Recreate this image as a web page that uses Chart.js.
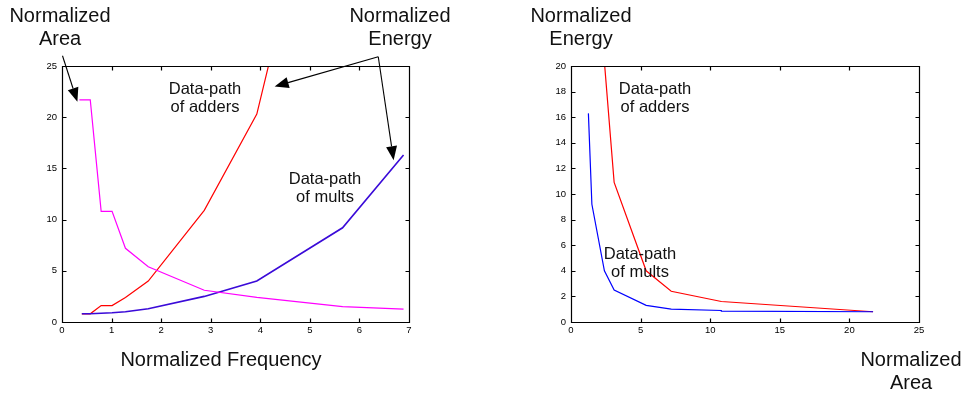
<!DOCTYPE html>
<html>
<head>
  <title>Normalized Energy, Area and Frequency</title>
  <script src="https://cdn.jsdelivr.net/npm/chart.js"></script>
  <style>
    body { margin: 0; background: #fff; }
    #page { position: relative; width: 962px; height: 393px; overflow: hidden;
            font-family: "Liberation Sans", Arial, sans-serif; color: #111; }
    canvas { position: absolute; top: 0; }
    .big, .note { position: absolute; text-align: center; white-space: nowrap; transform: translateX(-50%); }
    .big { font-size: 20px; line-height: 23px; }
    .note { font-size: 16.5px; line-height: 18.4px; }
  </style>
</head>
<body>
<div id="page">
  <canvas id="freqChart" width="481" height="393" style="left:0"></canvas>
  <canvas id="areaChart" width="481" height="393" style="left:481px"></canvas>

  <div class="big" style="left:60px; top:4px">Normalized<br>Area</div>
  <div class="big" style="left:400px; top:4px">Normalized<br>Energy</div>
  <div class="big" style="left:221px; top:348px">Normalized Frequency</div>
  <div class="note" style="left:205px; top:79px">Data-path<br>of adders</div>
  <div class="note" style="left:325px; top:169px">Data-path<br>of mults</div>

  <div class="big" style="left:581px; top:4px">Normalized<br>Energy</div>
  <div class="big" style="left:911px; top:348px">Normalized<br>Area</div>
  <div class="note" style="left:655px; top:79px">Data-path<br>of adders</div>
  <div class="note" style="left:640px; top:244px">Data-path<br>of mults</div>
</div>

<script>
  // design points, ordered by frequency
  const freq = [0.40, 0.57, 0.79, 1.01, 1.28, 1.74, 2.87, 3.93, 5.66, 6.89];
  const freqArea = [0.35, 0.57, 0.79, 1.01, 1.28, 1.74, 2.87, 3.93, 5.66, 6.89];
  const area = [21.7, 21.7, 10.8, 10.8, 7.2, 5.4, 3.1, 2.4, 1.5, 1.25];
  const energyAdders = [0.8, 0.8, 1.6, 1.6, 2.4, 4.0, 10.9, 20.3, 55, null];
  const energyMults = [0.8, 0.8, 0.85, 0.9, 1.0, 1.3, 2.5, 4.0, 9.2, 16.3];

  const freqTicks = [0, 1, 2, 3, 4, 5, 6, 7];
  const energyTicksL = [0, 5, 10, 15, 20, 25];
  const areaTicks = [0, 5, 10, 15, 20, 25];
  const energyTicksR = [0, 2, 4, 6, 8, 10, 12, 14, 16, 18, 20];

  const pts = (xs, ys) => xs.map((v, i) => ({ x: v, y: ys[i] }));

  // inward tick marks on all four sides plus the box frame
  const boxTicks = {
    id: 'boxTicks',
    afterDraw(chart) {
      const { ctx, chartArea: a, scales: { x, y } } = chart;
      const L = Math.round(a.left) + 0.5, R = Math.round(a.right) + 0.5;
      const T = Math.round(a.top) + 0.5, B = Math.round(a.bottom) + 0.5;
      ctx.save();
      ctx.strokeStyle = '#000';
      ctx.lineWidth = 1.2;
      ctx.beginPath();
      x.ticks.forEach(t => {
        const px = Math.round(x.getPixelForValue(t.value)) + 0.5;
        ctx.moveTo(px, B); ctx.lineTo(px, B - 4);
        ctx.moveTo(px, T); ctx.lineTo(px, T + 4);
      });
      y.ticks.forEach(t => {
        const py = Math.round(y.getPixelForValue(t.value)) + 0.5;
        ctx.moveTo(L, py); ctx.lineTo(L + 4, py);
        ctx.moveTo(R, py); ctx.lineTo(R - 4, py);
      });
      ctx.rect(L, T, R - L, B - T);
      ctx.stroke();
      ctx.restore();
    }
  };

  // callout arrows, in frequency/energy units of the left plot
  const callouts = [
    { from: [0.01, 26.0], to: [0.31, 21.5] },
    { from: [6.38, 25.9], to: [4.29, 23.0] },
    { from: [6.38, 25.9], to: [6.69, 15.8] }
  ];

  const arrowPlugin = {
    id: 'arrows',
    afterDraw(chart) {
      const { ctx, scales: { x, y } } = chart;
      ctx.save();
      ctx.strokeStyle = '#000';
      ctx.fillStyle = '#000';
      ctx.lineWidth = 1.1;
      callouts.forEach(c => {
        const x0 = x.getPixelForValue(c.from[0]), y0 = y.getPixelForValue(c.from[1]);
        const x1 = x.getPixelForValue(c.to[0]), y1 = y.getPixelForValue(c.to[1]);
        const ang = Math.atan2(y1 - y0, x1 - x0);
        const len = 14, half = 5.5;
        const bx = x1 - len * Math.cos(ang), by = y1 - len * Math.sin(ang);
        ctx.beginPath();
        ctx.moveTo(x0, y0);
        ctx.lineTo(bx, by);
        ctx.stroke();
        ctx.beginPath();
        ctx.moveTo(x1, y1);
        ctx.lineTo(bx + half * Math.sin(ang), by - half * Math.cos(ang));
        ctx.lineTo(bx - half * Math.sin(ang), by + half * Math.cos(ang));
        ctx.closePath();
        ctx.fill();
      });
      ctx.restore();
    }
  };

  const tickFont = { family: '"Liberation Sans", Arial, sans-serif', size: 9.5 };

  function axis(min, max, values, pos, fit) {
    return {
      type: 'linear',
      position: pos,
      min: min,
      max: max,
      afterBuildTicks: s => { s.ticks = values.map(v => ({ value: v })); },
      afterFit: fit,
      grid: { display: false, drawTicks: false },
      border: { display: false },
      ticks: { font: tickFont, color: '#000', padding: pos === 'left' ? 5 : 3 }
    };
  }

  function line(data, color, width) {
    return { data: data, borderColor: color, borderWidth: width || 1.2, showLine: true,
             pointRadius: 0, tension: 0, fill: false };
  }

  function baseOptions(padding) {
    return {
      responsive: false,
      animation: false,
      layout: { padding: padding },
      plugins: { legend: { display: false }, tooltip: { enabled: false } }
    };
  }

  new Chart(document.getElementById('freqChart'), {
    type: 'scatter',
    data: {
      datasets: [
        line(pts(freqArea, area), '#ff00ff'),
        line(pts(freq, energyMults), '#3a0ad8', 1.6),
        line(pts(freq, energyAdders), '#ff0000')
      ]
    },
    options: Object.assign(baseOptions({ left: 32, right: 72, top: 66, bottom: 51 }), {
      scales: {
        x: axis(0, 7, freqTicks, 'bottom', s => { s.height = 20; }),
        y: axis(0, 25, energyTicksL, 'left', s => { s.width = 30; })
      }
    }),
    plugins: [boxTicks, arrowPlugin]
  });

  new Chart(document.getElementById('areaChart'), {
    type: 'scatter',
    data: {
      datasets: [
        line(pts(area, energyMults), '#0000ff'),
        line(pts(area, energyAdders), '#ff0000')
      ]
    },
    options: Object.assign(baseOptions({ left: 60, right: 43, top: 66, bottom: 51 }), {
      scales: {
        x: axis(0, 25, areaTicks, 'bottom', s => { s.height = 20; }),
        y: axis(0, 20, energyTicksR, 'left', s => { s.width = 30; })
      }
    }),
    plugins: [boxTicks]
  });
</script>
</body>
</html>
